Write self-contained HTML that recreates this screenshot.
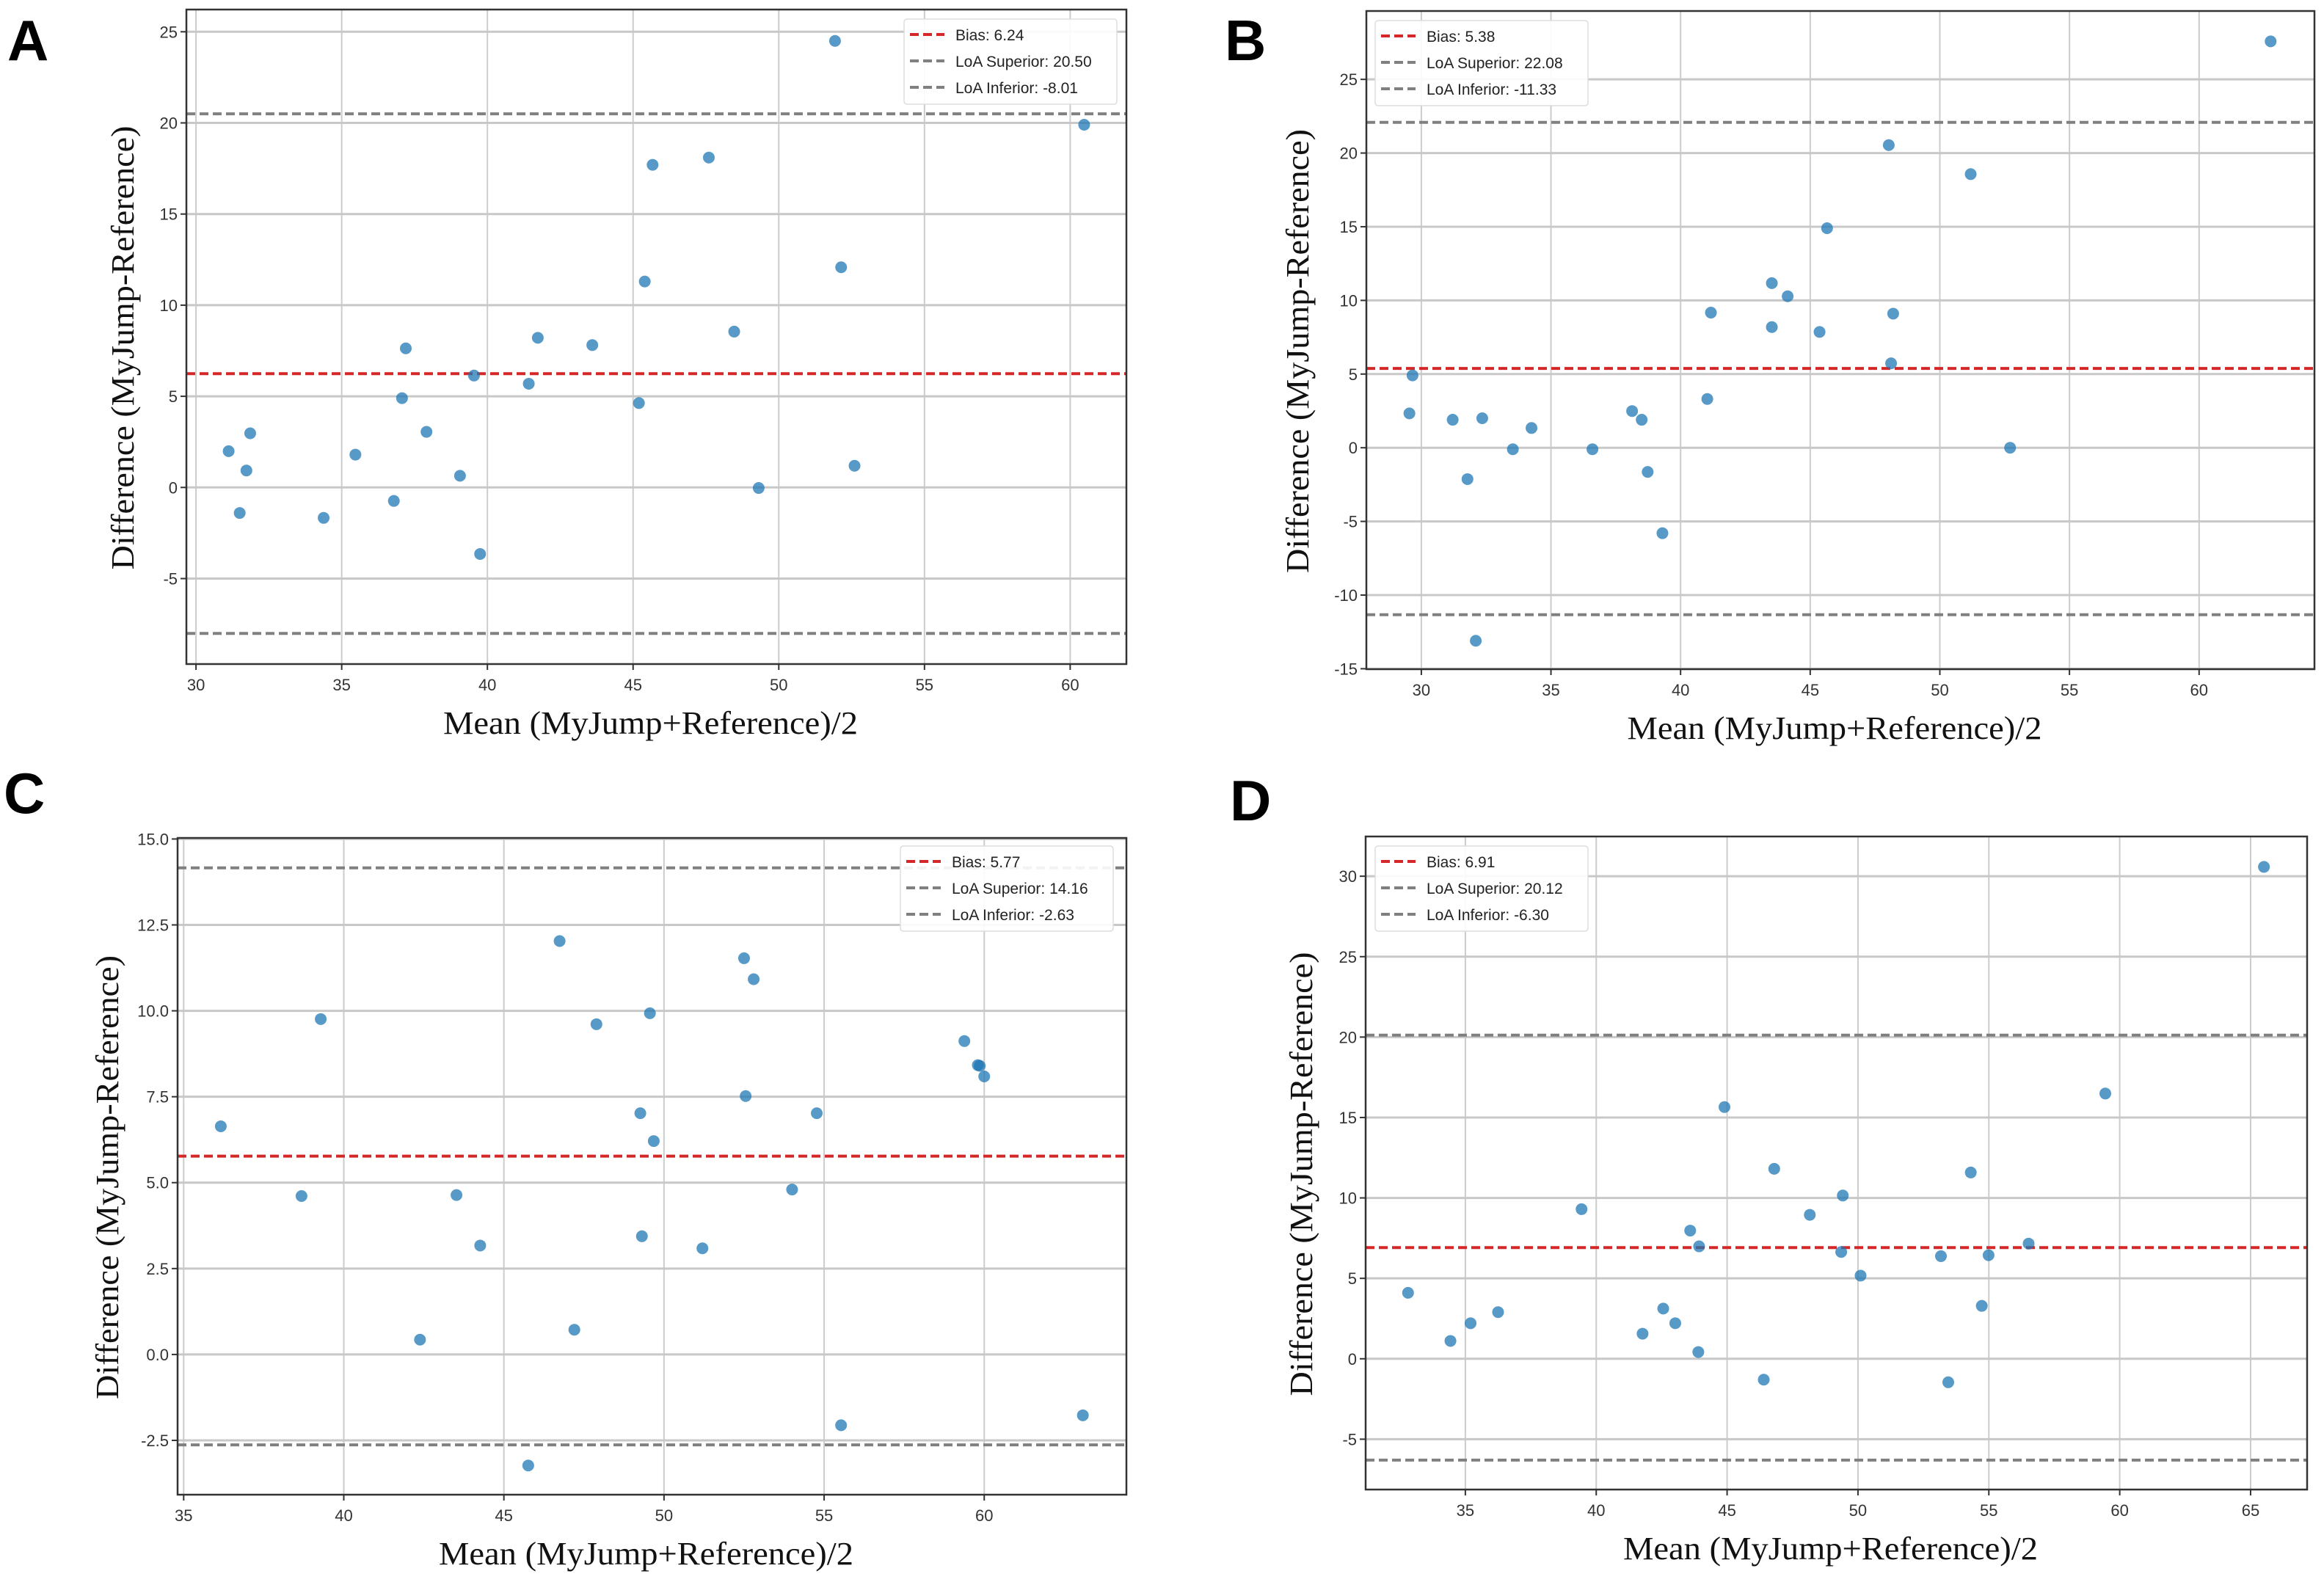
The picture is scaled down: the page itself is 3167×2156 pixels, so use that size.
<!DOCTYPE html>
<html><head><meta charset="utf-8"><style>
html,body{margin:0;padding:0;background:#fff}
svg{display:block}
.tick{font-family:"Liberation Sans",sans-serif;font-size:22px;fill:#333}
.leg{font-family:"Liberation Sans",sans-serif;font-size:21px;fill:#222}
.lab{font-family:"Liberation Serif",serif;font-size:44px;fill:#111}
.letter{font-family:"Liberation Sans",sans-serif;font-weight:bold;font-size:78px;fill:#000}
</style></head><body>
<svg id="fig" width="3167" height="2156" viewBox="0 0 3167 2156" xmlns="http://www.w3.org/2000/svg"></svg>
<script>
// Panel A data
const aMeans=[51.93,60.48,45.67,47.6,45.4,52.14,48.47,41.73,43.6,37.2,39.54,41.42,37.07,45.2,31.86,37.91,31.12,35.47,31.73,39.06,52.6,49.31,36.79,31.5,34.38,39.75];
const aDiffs=[24.5,19.9,17.7,18.1,11.3,12.08,8.55,8.21,7.81,7.63,6.14,5.69,4.9,4.63,2.97,3.05,1.99,1.80,0.93,0.64,1.19,-0.03,-0.74,-1.40,-1.67,-3.65];
const aStats=[6.24,20.50,-8.01];
const aXTicks=[30,35,40,45,50,55,60];
const aYTicks=[-5,0,5,10,15,20,25];
// Panel B data
const bMeans=[62.76,48.03,51.19,45.65,43.52,44.13,41.17,48.2,43.52,45.36,48.12,29.66,41.03,29.54,38.13,31.21,32.35,38.5,34.25,33.53,36.6,52.71,31.78,38.73,39.3,32.1];
const bDiffs=[27.58,20.54,18.57,14.9,11.17,10.28,9.17,9.1,8.19,7.86,5.73,4.91,3.31,2.33,2.49,1.9,2.0,1.9,1.34,-0.1,-0.1,0,-2.13,-1.64,-5.8,-13.1];
const bStats=[5.38,22.08,-11.33];
const bXTicks=[30,35,40,45,50,55,60];
const bYTicks=[-15,-10,-5,0,5,10,15,20,25];
// Panel C data
const cMeans=[46.74,52.5,52.8,39.28,47.89,49.56,59.38,59.86,59.8,60.0,52.55,49.26,54.77,36.16,49.68,54.0,38.68,43.52,49.31,44.26,51.2,47.2,42.38,55.53,63.08,45.76];
const cDiffs=[12.03,11.53,10.92,9.76,9.61,9.93,9.12,8.4,8.42,8.09,7.52,7.02,7.02,6.64,6.21,4.80,4.61,4.64,3.44,3.17,3.09,0.72,0.43,-2.06,-1.77,-3.23];
const cStats=[5.77,14.16,-2.63];
const cXTicks=[35,40,45,50,55,60];
const cYTicks=[-2.5,0,2.5,5,7.5,10,12.5,15];
// Panel D data
const dMeans=[65.51,59.45,44.9,46.8,54.31,49.42,39.44,48.16,43.59,43.93,56.52,49.36,53.17,54.99,50.1,32.81,42.56,54.73,36.25,35.2,43.02,41.77,34.43,43.9,46.4,53.45];
const dDiffs=[30.58,16.49,15.65,11.81,11.58,10.15,9.3,8.95,7.97,6.99,7.16,6.64,6.38,6.44,5.17,4.1,3.12,3.29,2.9,2.21,2.21,1.56,1.11,0.42,-1.3,-1.46];
const dStats=[6.91,20.12,-6.30];
const dXTicks=[35,40,45,50,55,60,65];
const dYTicks=[-5,0,5,10,15,20,25,30];

const NS="http://www.w3.org/2000/svg";
const svg=document.getElementById('fig');
function mk(tag,attrs,parent){const e=document.createElementNS(NS,tag);for(const k in attrs)e.setAttribute(k,attrs[k]);(parent||svg).appendChild(e);return e;}

const panels=[
 {id:'a',letter:'A',lx:10,ly:82,box:[254,13,1535,905],xd:[29.67,61.93],yd:[-9.69,26.22],means:aMeans,diffs:aDiffs,stats:aStats,xt:aXTicks,yt:aYTicks,dec:0,leg:[1232,26],ylx:167},
 {id:'b',letter:'B',lx:1669,ly:82,box:[1862,15,3154,912],xd:[27.88,64.45],yd:[-15.03,29.64],means:bMeans,diffs:bDiffs,stats:bStats,xt:bXTicks,yt:bYTicks,dec:0,leg:[1874,28],ylx:1768},
 {id:'c',letter:'C',lx:5,ly:1108,box:[242,1142,1535,2037],xd:[34.81,64.44],yd:[-4.08,15.03],means:cMeans,diffs:cDiffs,stats:cStats,xt:cXTicks,yt:cYTicks,dec:1,leg:[1227,1153],ylx:146},
 {id:'d',letter:'D',lx:1676,ly:1118,box:[1861,1140,3144,2030],xd:[31.19,67.16],yd:[-8.13,32.47],means:dMeans,diffs:dDiffs,stats:dStats,xt:dXTicks,yt:dYTicks,dec:0,leg:[1874,1153],ylx:1773}
];

panels.forEach(p=>{
 const [x0,y0,x1,y1]=p.box;
 const sx=v=>x0+(v-p.xd[0])/(p.xd[1]-p.xd[0])*(x1-x0);
 const sy=v=>y1-(v-p.yd[0])/(p.yd[1]-p.yd[0])*(y1-y0);
 const g=mk('g',{});
 
 
 const L=mk('text',{x:p.lx,y:p.ly,class:'letter'},g);L.textContent=p.letter;
 
 
 // grid + ticks
 p.xt.forEach(t=>{const X=sx(t);
  const gl=mk('line',{x1:X,x2:X,y1:y0,y2:y1,stroke:'#cccccc','stroke-width':2},g);
  
  
  mk('line',{x1:X,x2:X,y1:y1,y2:y1+8,stroke:'#333','stroke-width':2},g);
  const tx=mk('text',{x:X,y:y1+36,class:'tick','text-anchor':'middle'},g);tx.textContent=t;
  
  
 });
 p.yt.forEach(t=>{const Y=sy(t);
  const gl=mk('line',{x1:x0,x2:x1,y1:Y,y2:Y,stroke:'#c8c8c8','stroke-width':3},g);
  
  
  mk('line',{x1:x0-8,x2:x0,y1:Y,y2:Y,stroke:'#333','stroke-width':2},g);
  const tx=mk('text',{x:x0-12,y:Y+8,class:'tick','text-anchor':'end'},g);tx.textContent=t.toFixed(p.dec);
  
  
 });
 // reference lines
 const cols=['#d62728','#808080','#808080'];
 const names=['bias-line','loa-superior-line','loa-inferior-line'];
 p.stats.forEach((v,i)=>{const Y=sy(v);
  const ln=mk('line',{x1:x0,x2:x1,y1:Y,y2:Y,stroke:cols[i],'stroke-width':4,'stroke-dasharray':'12 6'},g);
  
  
 });
 // points
 p.means.forEach((m,i)=>{
  const c=mk('circle',{cx:sx(m),cy:sy(p.diffs[i]),r:8,fill:'#1f77b4','fill-opacity':0.75},g);
  
  
 });
 // box
 const bx=mk('rect',{x:x0,y:y0,width:x1-x0,height:y1-y0,fill:'none',stroke:'#333','stroke-width':2.5},g);
 
 
 // legend
 const [lx,ly]=p.leg;
 const lg=mk('g',{},g);
 
 
 mk('rect',{x:lx,y:ly,width:290,height:116,rx:4,fill:'#fff','fill-opacity':0.9,stroke:'#dddddd','stroke-width':1.5},lg);
 const labels=['Bias: '+p.stats[0].toFixed(2),'LoA Superior: '+p.stats[1].toFixed(2),'LoA Inferior: '+p.stats[2].toFixed(2)];
 labels.forEach((s,i)=>{const Y=ly+21+i*36;
  mk('line',{x1:lx+8,x2:lx+55,y1:Y,y2:Y,stroke:cols[i],'stroke-width':4,'stroke-dasharray':'12 6'},lg);
  const t=mk('text',{x:lx+70,y:Y+8,class:'leg'},lg);t.textContent=s;
  
  
 });
 // axis labels
 const cyl=(y0+y1)/2+15;
 const yl=mk('text',{x:0,y:0,class:'lab','text-anchor':'middle',transform:`translate(${p.ylx+15},${cyl}) rotate(-90)`,textLength:605,lengthAdjust:'spacingAndGlyphs'},g);
 yl.textContent='Difference (MyJump-Reference)';
 
 
 const xl=mk('text',{x:(x0+x1)/2-8,y:y1+95,class:'lab','text-anchor':'middle',textLength:565,lengthAdjust:'spacingAndGlyphs'},g);
 xl.textContent='Mean (MyJump+Reference)/2';
 
 
});
</script>
</body></html>
